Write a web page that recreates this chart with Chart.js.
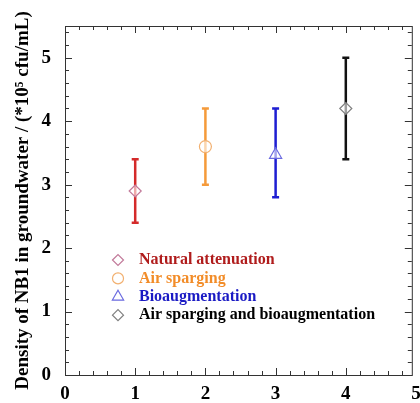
<!DOCTYPE html>
<html>
<head>
<meta charset="utf-8">
<script src="https://cdn.jsdelivr.net/npm/chart.js@4/dist/chart.umd.min.js"></script>
<style>
  html, body { margin: 0; padding: 0; background: #fff; }
  #wrap { width: 420px; height: 403px; }
</style>
</head>
<body>
<div id="wrap"><canvas id="chart"></canvas></div>
<script>
// Данные
const labels = ['Natural attenuation', 'Air sparging', 'Bioaugmentation', 'Air sparging and bioaugmentation'];
const xValues = [1, 2, 3, 4];
const means = [2.9, 3.6, 3.47, 4.2];
const lows = [2.4, 3.0, 2.8, 3.4];
const highs = [3.4, 4.2, 4.2, 5.0];
const xTicks = [0, 1, 2, 3, 4, 5];
const yTicks = [0, 1, 2, 3, 4, 5];

const barColors = ['#d42a2a', '#f59a3a', '#1e1ed2', '#111111'];
const markerColors = ['#c27a9a', '#f2b070', '#6a6ae0', '#808080'];
const textColors = ['#b01c1c', '#f28c28', '#1a1ac4', '#000000'];
const markerStyles = ['rectRot', 'circle', 'triangle', 'rectRot'];

const FONT = '"Liberation Serif", "Times New Roman", serif';

// Планки погрешностей
const errorBars = {
    id: 'errorBars',
    beforeDatasetsDraw(chart) {
        const { ctx, scales: { x, y } } = chart;
        ctx.save();
        xValues.forEach((xv, i) => {
            const px = x.getPixelForValue(xv);
            const top = y.getPixelForValue(highs[i]);
            const bot = y.getPixelForValue(lows[i]);
            ctx.strokeStyle = barColors[i];
            ctx.lineWidth = 2.5;
            ctx.beginPath();
            ctx.moveTo(px, top); ctx.lineTo(px, bot);
            ctx.moveTo(px - 3.5, top); ctx.lineTo(px + 3.5, top);
            ctx.moveTo(px - 3.5, bot); ctx.lineTo(px + 3.5, bot);
            ctx.stroke();
        });
        ctx.restore();
    }
};

// Рамка и внутренние засечки
const frameTicks = {
    id: 'frameTicks',
    afterDraw(chart) {
        const { ctx, chartArea: a, scales: { x, y } } = chart;
        ctx.save();
        ctx.strokeStyle = '#333';
        ctx.lineWidth = 1;
        ctx.strokeRect(a.left + 0.5, a.top + 0.5, a.right - a.left, a.bottom - a.top);
        ctx.beginPath();
        for (let k = 0; k <= 27; k++) {
            const v = k * 0.2;
            const py = Math.round(y.getPixelForValue(v)) + 0.5;
            const len = k % 5 === 0 ? 7 : 4;
            ctx.moveTo(a.left, py); ctx.lineTo(a.left + len, py);
            ctx.moveTo(a.right, py); ctx.lineTo(a.right - len, py);
        }
        for (let k = 0; k <= 24; k++) {
            const v = k * 0.2;
            const px = Math.round(x.getPixelForValue(v)) + 0.5;
            const len = k % 5 === 0 ? 7 : 4;
            ctx.moveTo(px, a.bottom); ctx.lineTo(px, a.bottom - len);
            ctx.moveTo(px, a.top); ctx.lineTo(px, a.top + len);
        }
        ctx.stroke();
        ctx.restore();
    }
};

// Легенда внутри графика
const innerLegend = {
    id: 'innerLegend',
    afterDraw(chart) {
        const { ctx } = chart;
        ctx.save();
        ctx.font = 'bold 16px ' + FONT;
        ctx.textBaseline = 'middle';
        labels.forEach((lab, i) => {
            const yy = 260 + i * 18.4;
            ctx.fillStyle = '#ffffff';
            ctx.strokeStyle = markerColors[i];
            ctx.lineWidth = 1.2;
            Chart.helpers.drawPoint(ctx, {
                pointStyle: markerStyles[i],
                radius: markerStyles[i] === 'triangle' ? 6.5 : 5.5,
                rotation: 0,
                borderWidth: 1.2
            }, 118, yy);
            ctx.fillStyle = textColors[i];
            ctx.fillText(lab, 139, yy);
        });
        ctx.restore();
    }
};

const datasets = xValues.map((xv, i) => ({
    label: labels[i],
    data: [{ x: xv, y: means[i] }],
    pointStyle: markerStyles[i],
    pointRadius: markerStyles[i] === 'triangle' ? 7 : 6,
    borderColor: markerColors[i],
    backgroundColor: 'rgba(255,255,255,0.6)',
    pointBorderWidth: 1.2
}));

new Chart(document.getElementById('chart'), {
    type: 'scatter',
    data: { datasets },
    plugins: [errorBars, frameTicks, innerLegend],
    options: {
        responsive: true,
        maintainAspectRatio: false,
        animation: false,
        layout: { padding: { top: 26, right: 7, left: 0, bottom: 0 } },
        plugins: { legend: { display: false }, tooltip: { enabled: false } },
        scales: {
            x: {
                type: 'linear',
                min: 0, max: 4.94,
                afterBuildTicks: s => { s.ticks = xTicks.map(v => ({ value: v })); },
                afterFit: s => { s.height = 28; s.paddingLeft = 0; s.paddingRight = 0; },
                grid: { display: false, drawTicks: false },
                border: { display: false },
                ticks: {
                    autoSkip: false, padding: 8, color: '#000',
                    font: { family: FONT, size: 19, weight: 'bold' }
                }
            },
            y: {
                min: 0, max: 5.5,
                afterFit: s => { s.width = 65; s.paddingTop = 0; s.paddingBottom = 0; },
                afterBuildTicks: s => { s.ticks = yTicks.map(v => ({ value: v })); },
                grid: { display: false, drawTicks: false },
                border: { display: false },
                ticks: {
                    padding: 14, color: '#000',
                    font: { family: FONT, size: 19, weight: 'bold' }
                },
                title: {
                    display: true,
                    text: 'Density of NB1 in groundwater / (*10⁵ cfu/mL)',
                    color: '#000',
                    padding: { top: 12, bottom: 0 },
                    font: { family: FONT, size: 19, weight: 'bold' }
                }
            }
        }
    }
});
</script>
</body>
</html>
